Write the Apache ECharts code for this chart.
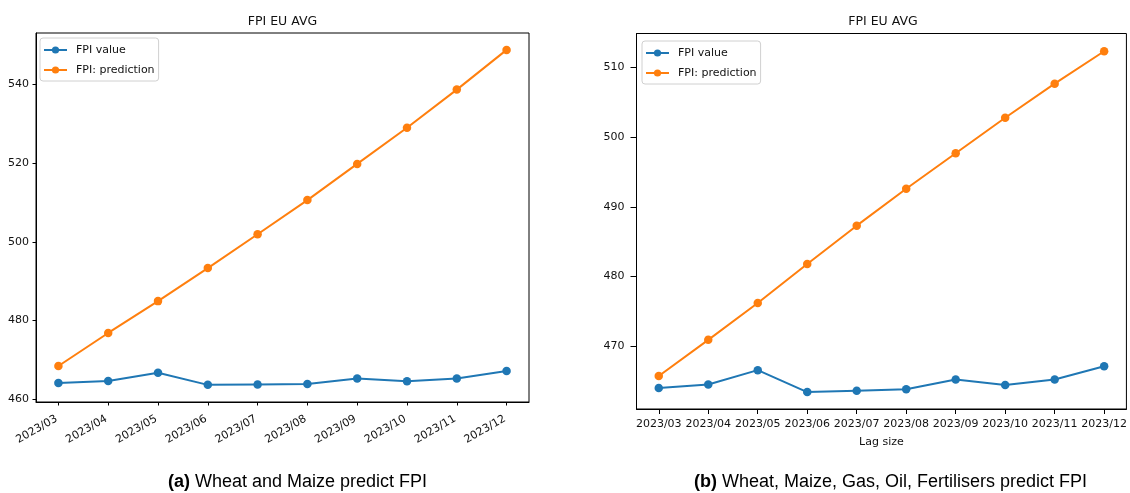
<!DOCTYPE html>
<html>
<head>
<meta charset="utf-8">
<script src="https://cdn.jsdelivr.net/npm/echarts@6/dist/echarts.min.js"></script>
<style>
html,body{margin:0;padding:0;background:#fff;}
#main{width:1130px;height:493px;}
</style>
</head>
<body>
<div id="main"></div>
<script>
// ---- data ----
var categories = ['2023/03','2023/04','2023/05','2023/06','2023/07','2023/08','2023/09','2023/10','2023/11','2023/12'];
var fpiValueA = [464.1, 464.6, 466.7, 463.6, 463.7, 463.8, 465.2, 464.5, 465.2, 467.1];
var fpiPredA  = [468.4, 476.8, 484.9, 493.3, 501.9, 510.6, 519.8, 529.0, 538.7, 548.8];
var fpiValueB = [464.0, 464.5, 466.55, 463.4, 463.6, 463.8, 465.2, 464.4, 465.2, 467.1];
var fpiPredB  = [465.7, 470.9, 476.2, 481.8, 487.3, 492.6, 497.7, 502.8, 507.7, 512.35];
var yTicksA = [460, 480, 500, 520, 540];
var yTicksB = [470, 480, 490, 500, 510];
var titleText = 'FPI EU AVG';
var captionA = ['(a)', ' Wheat and Maize predict FPI'];
var captionB = ['(b)', ' Wheat, Maize, Gas, Oil, Fertilisers predict FPI'];
var seriesNames = ['FPI value', 'FPI: prediction'];
var xAxisNameB = 'Lag size';

var idx = categories.map(function(_, i){ return i; });
function pairs(arr){ return arr.map(function(v, i){ return [i, v]; }); }

var BLUE = '#1f77b4', ORANGE = '#ff7f0e';
var FONT = 'DejaVu Sans';

function xAxis(gi, rotate, name, tickLen, margin){
  return {
    type: 'value', gridIndex: gi, min: -0.45, max: 9.45,
    splitLine: {show: false},
    axisLine: {show: true, onZero: false, lineStyle: {color: '#000', width: 1}},
    axisTick: {show: true, customValues: idx, length: tickLen, lineStyle: {color: '#000'}},
    axisLabel: {customValues: idx, rotate: rotate, margin: margin,
      fontFamily: FONT, fontSize: 11, color: '#111',
      padding: rotate ? [0, 2, 0, 0] : 0,
      formatter: function(v){ return categories[Math.round(v)]; }},
    name: name || '', nameLocation: 'middle', nameGap: 28,
    nameTextStyle: {fontFamily: FONT, fontSize: 11, color: '#111'}
  };
}
function yAxis(gi, min, max, ticks, tickLen, margin){
  return {
    type: 'value', gridIndex: gi, min: min, max: max,
    splitLine: {show: false},
    axisLine: {show: true, onZero: false, lineStyle: {color: '#000', width: 1}},
    axisTick: {show: true, customValues: ticks, length: tickLen, lineStyle: {color: '#000'}},
    axisLabel: {customValues: ticks, margin: margin, fontFamily: FONT, fontSize: 11, color: '#111'}
  };
}
function legend(left, top){
  return {
    left: left, top: top, orient: 'vertical',
    data: seriesNames,
    backgroundColor: '#fff', borderColor: '#d0d0d0', borderWidth: 1, borderRadius: 3,
    padding: [5, 4, 4, 3], itemGap: 6, itemWidth: 23, itemHeight: 9,
    textStyle: {fontFamily: FONT, fontSize: 11, lineHeight: 14, color: '#111', padding: [0, 0, 0, 4]}
  };
}
function line(name, data, color, gi){
  return {
    type: 'line', name: name, xAxisIndex: gi, yAxisIndex: gi,
    data: pairs(data), symbol: 'circle', symbolSize: 8.5, showSymbol: true,
    itemStyle: {color: color}, lineStyle: {color: color, width: 2},
    animation: false, z: name === seriesNames[0] ? 3 : 2
  };
}
function caption(parts, x){
  return {text: '{b|' + parts[0] + '}{n|' + parts[1] + '}', left: x, top: 473, textAlign: 'center', padding: 0,
    textStyle: {rich: {
      b: {fontFamily: 'Liberation Sans', fontSize: 18, fontWeight: 'bold', color: '#000'},
      n: {fontFamily: 'Liberation Sans', fontSize: 18, fontWeight: 'normal', color: '#000'}}}};
}

var chart = echarts.init(document.getElementById('main'), null, {renderer: 'canvas'});
chart.setOption({
  backgroundColor: '#fff',
  animation: false,
  color: [BLUE, ORANGE],
  title: [
    {text: titleText, left: 282.5, top: 15, textAlign: 'center', padding: 0,
     textStyle: {fontFamily: FONT, fontSize: 12.5, fontWeight: 'normal', color: '#111'}},
    {text: titleText, left: 883, top: 15, textAlign: 'center', padding: 0,
     textStyle: {fontFamily: FONT, fontSize: 12.5, fontWeight: 'normal', color: '#111'}},
    caption(captionA, 297.5),
    caption(captionB, 890.5)
  ],
  legend: [legend(40, 38), legend(642, 41)],
  grid: [
    {left: 36, top: 33, width: 493, height: 369, show: true, borderColor: '#000', borderWidth: 1, backgroundColor: 'transparent'},
    {left: 636.5, top: 33.5, width: 492.5, height: 375.5, show: true, borderColor: '#000', borderWidth: 1, backgroundColor: 'transparent'}
  ],
  xAxis: [xAxis(0, 30, '', 3.5, 15), xAxis(1, 0, xAxisNameB, 5, 10)],
  yAxis: [yAxis(0, 459.24, 553.1, yTicksA, 3.5, 7), yAxis(1, 460.97, 514.9, yTicksB, 6, 12)],
  series: [
    line(seriesNames[0], fpiValueA, BLUE, 0),
    line(seriesNames[1], fpiPredA, ORANGE, 0),
    line(seriesNames[0], fpiValueB, BLUE, 1),
    line(seriesNames[1], fpiPredB, ORANGE, 1)
  ]
});
</script>
</body>
</html>
